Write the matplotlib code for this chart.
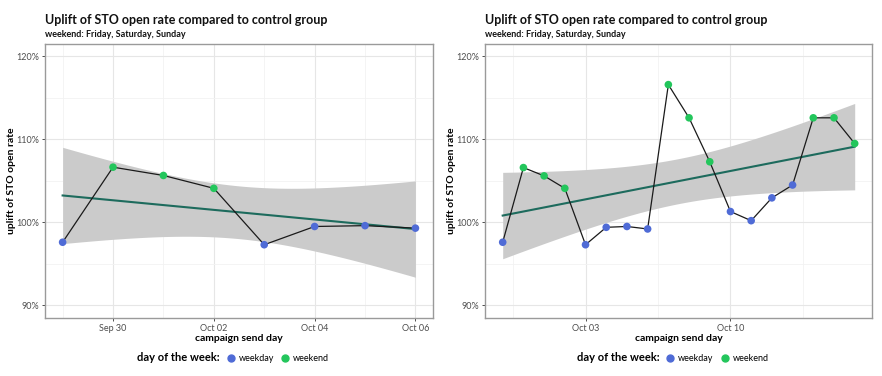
import matplotlib
matplotlib.use("Agg")
import matplotlib.pyplot as plt
import matplotlib.dates as mdates
from matplotlib.lines import Line2D
import numpy as np

plt.rcParams['font.family'] = ['Lato', 'DejaVu Sans']

# data
days_left = np.arange(np.datetime64('2022-09-29'), np.datetime64('2022-10-07'))
uplift_left = [97.6, 106.65, 105.65, 104.1, 97.3, 99.5, 99.6, 99.3]

days_right = np.arange(np.datetime64('2022-09-29'), np.datetime64('2022-10-17'))
uplift_right = [97.6, 106.6, 105.6, 104.1, 97.3, 99.4, 99.5, 99.2, 116.6,
                112.6, 107.3, 101.3, 100.2, 102.95, 104.5, 112.6, 112.6, 109.5]

weekend_days = ['Fri', 'Sat', 'Sun']

title = "Uplift of STO open rate compared to control group"
subtitle = "weekend: Friday, Saturday, Sunday"

col_weekday = '#4f6bd6'
col_weekend = '#23c65c'
col_trend = '#1d6b5d'
col_ribbon = '#cbcbcb'

# student t 0.975 quantiles for the lm confidence band
t975 = {6: 2.4469, 16: 2.1199}


def panel(fig, rect, days, vals, major, minor, fmt):
    ax = fig.add_axes(rect)
    x = mdates.date2num(days.astype('datetime64[D]').astype(object))
    y = np.array(vals)
    n = len(x)
    # linear fit + 95% CI (like geom_smooth(method='lm'))
    b, a = np.polyfit(x, y, 1)
    resid = y - (a + b * x)
    s = np.sqrt(np.sum(resid ** 2) / (n - 2))
    xs = np.linspace(x.min(), x.max(), 100)
    se = s * np.sqrt(1 / n + (xs - x.mean()) ** 2 / np.sum((x - x.mean()) ** 2))
    fit = a + b * xs
    t = t975[n - 2]
    ax.fill_between(xs, fit - t * se, fit + t * se, color=col_ribbon, lw=0, zorder=2)
    ax.plot(xs, fit, color=col_trend, lw=1.5, zorder=3)
    ax.plot(x, y, color='#1a1a1a', lw=0.9, zorder=4)
    dow = [d.strftime('%a') for d in days.astype('datetime64[D]').astype(object)]
    cols = [col_weekend if d in weekend_days else col_weekday for d in dow]
    ax.scatter(x, y, c=cols, s=30, zorder=5, linewidths=0)

    span = x.max() - x.min()
    ax.set_xlim(x.min() - 0.05 * span, x.max() + 0.05 * span)
    ax.set_ylim(88.5, 121.5)
    ax.set_yticks([90, 100, 110, 120])
    ax.set_yticklabels(['90%', '100%', '110%', '120%'])
    ax.set_yticks([95, 105, 115], minor=True)
    ax.set_xticks(mdates.date2num(major))
    ax.set_xticklabels([d.strftime(fmt) for d in major])
    ax.set_xticks(minor, minor=True)
    ax.grid(which='major', color='#e6e6e6', lw=0.8, zorder=0)
    ax.grid(which='minor', color='#f2f2f2', lw=0.6, zorder=0)
    ax.set_axisbelow(True)
    ax.tick_params(which='major', length=2.5, width=0.6, color='#333333',
                   labelsize=6.5, labelcolor='#4d4d4d', pad=2)
    ax.tick_params(which='minor', length=0)
    for sp in ax.spines.values():
        sp.set_color('#9a9a9a')
        sp.set_linewidth(1.0)
    ax.set_xlabel('campaign send day', fontsize=7.5, fontweight='bold', labelpad=1)
    ax.set_ylabel('uplift of STO open rate', fontsize=7.5, fontweight='bold', labelpad=0)

    ax.text(0, 1.088, title, transform=ax.transAxes, fontsize=9, fontweight='bold',
            color='#111111', va='center', ha='left')
    ax.text(0, 1.033, subtitle, transform=ax.transAxes, fontsize=6.5, fontweight='bold',
            color='#111111', va='center', ha='left')

    handles = [Line2D([], [], lw=0, marker=None),
               Line2D([], [], lw=0, marker='o', ms=5, color=col_weekday),
               Line2D([], [], lw=0, marker='o', ms=5, color=col_weekend)]
    labels = ['day of the week:', 'weekday', 'weekend']
    leg = ax.legend(handles, labels, ncol=3, loc='center', bbox_to_anchor=(0.47, -0.145),
                    frameon=False, handlelength=0.7, handletextpad=0.5,
                    columnspacing=0.9, fontsize=6.5)
    leg.get_texts()[0].set_fontweight('bold')
    leg.get_texts()[0].set_fontsize(8)
    return ax


fig = plt.figure(figsize=(8.82, 3.76), dpi=100)

major_l = [np.datetime64('2022-09-30'), np.datetime64('2022-10-02'),
           np.datetime64('2022-10-04'), np.datetime64('2022-10-06')]
major_l = [d.astype(object) for d in major_l]
minor_l = mdates.date2num([np.datetime64(d).astype(object) for d in
                           ['2022-09-29', '2022-10-01', '2022-10-03', '2022-10-05']])
panel(fig, [0.051, 0.155, 0.440, 0.728], days_left, uplift_left, major_l, minor_l, '%b %d')

major_r = [np.datetime64('2022-10-03').astype(object), np.datetime64('2022-10-10').astype(object)]
minor_r = mdates.date2num([np.datetime64(d).astype(object) for d in
                           ['2022-09-29', '2022-10-06', '2022-10-13']]) + 0.5
panel(fig, [0.550, 0.155, 0.439, 0.728], days_right, uplift_right, major_r, minor_r, '%b %d')

fig.savefig('out.png', dpi=100)
